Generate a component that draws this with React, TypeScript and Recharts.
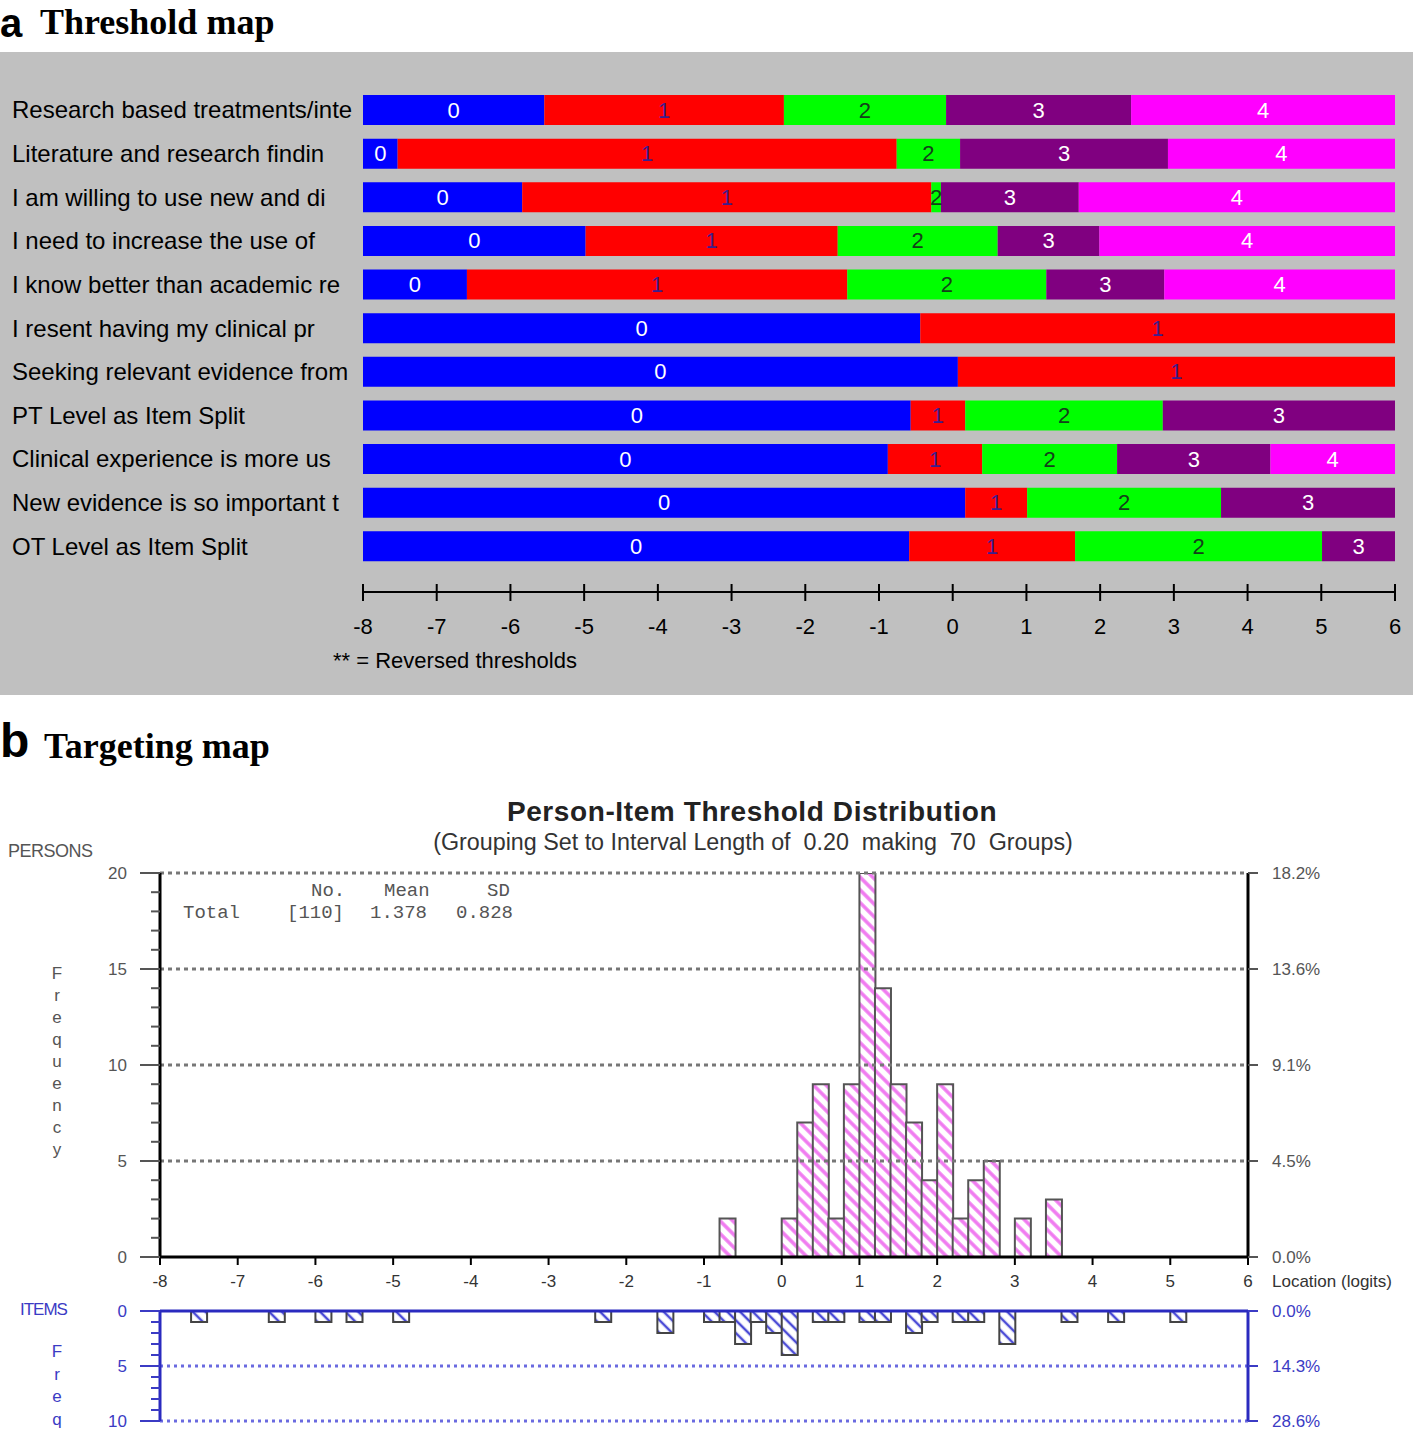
import React from "react";
import { Bar, BarChart, LabelList, ReferenceLine, XAxis, YAxis } from "recharts";

const SANS = "'Liberation Sans', Arial, sans-serif";
const SERIF = "'Liberation Serif', 'Times New Roman', serif";
const MONO = "'Liberation Mono', 'Courier New', monospace";

const itemLabels = [
  "Research based treatments/inte",
  "Literature and research findin",
  "I am willing to use new and di",
  "I need to increase the use of",
  "I know better than academic re",
  "I resent having my clinical pr",
  "Seeking relevant evidence from",
  "PT Level as Item Split",
  "Clinical experience is more us",
  "New evidence is so important t",
  "OT Level as Item Split",
];

// threshold locations (logits) for each item
const itemThresholds = [
  [-5.54, -2.29, -0.09, 2.42],
  [-7.53, -0.76, 0.1, 2.92],
  [-5.84, -0.29, -0.16, 1.71],
  [-4.98, -1.56, 0.61, 1.99],
  [-6.59, -1.43, 1.27, 2.87],
  [-0.44],
  [0.07],
  [-0.57, 0.17, 2.85],
  [-0.88, 0.4, 2.23, 4.31],
  [0.17, 1.01, 3.64],
  [-0.59, 1.66, 5.01],
];

const logitTicks = [-8, -7, -6, -5, -4, -3, -2, -1, 0, 1, 2, 3, 4, 5, 6];
const categoryColors = ["#0000ff", "#ff0000", "#00ff00", "#800080", "#ff00ff"];
const categoryTextColors = ["#ffffff", "#3c1e8c", "#14401a", "#ffffff", "#ffffff"];

// 0.20 logit groups: left edge of group and count
const personGroups = [-0.8, 0, 0.2, 0.4, 0.6, 0.8, 1.0, 1.2, 1.4, 1.6, 1.8, 2.0, 2.2, 2.4, 2.6, 3.0, 3.4];
const personCounts = [2, 2, 7, 9, 2, 9, 20, 14, 9, 7, 4, 9, 2, 4, 5, 2, 3];

const itemGroups = [
  -7.6, -6.6, -6.0, -5.6, -5.0, -2.4, -1.6, -1.0, -0.8, -0.6, -0.4, -0.2, 0, 0.4, 0.6, 1.0, 1.2, 1.6, 1.8,
  2.2, 2.4, 2.8, 3.6, 4.2, 5.0,
];
const itemCounts = [1, 1, 1, 1, 1, 1, 2, 1, 1, 3, 1, 2, 4, 1, 1, 1, 1, 2, 1, 1, 1, 3, 1, 1, 1];

const personFreqTicks = [0, 5, 10, 15, 20];
const personPercentLabels = ["0.0%", "4.5%", "9.1%", "13.6%", "18.2%"];
const itemFreqTicks = [0, 5, 10];
const itemPercentLabels = ["0.0%", "14.3%", "28.6%"];

const thresholdRows = itemLabels.map((label, i) => {
  const bounds = [-8, ...itemThresholds[i], 6];
  const row: Record<string, any> = { label };
  for (let k = 0; k < bounds.length - 1; k++) row[`c${k}`] = bounds[k + 1] - bounds[k];
  return row;
});

const groupTable = Array.from({ length: 70 }, (_, k) => ({
  mid: Math.round((-7.9 + 0.2 * k) * 100) / 100,
  persons: null as number | null,
  items: null as number | null,
}));
personGroups.forEach((g, i) => {
  groupTable[Math.round((g + 8) * 5)].persons = personCounts[i];
});
itemGroups.forEach((g, i) => {
  groupTable[Math.round((g + 8) * 5)].items = itemCounts[i];
});

const minorPersonTicks = Array.from({ length: 21 }, (_, i) => i);
const minorItemTicks = Array.from({ length: 11 }, (_, i) => i);

const ItemTick = ({ y, payload }: any) => (
  <text x={12} y={y} dominantBaseline="central" fontSize={24} fontFamily={SANS} fill="#000">
    {payload.value}
  </text>
);

const ThresholdXTick = ({ x, y, payload }: any) => (
  <g>
    <line x1={x} x2={x} y1={y - 8} y2={y + 9} stroke="#000" strokeWidth={2} />
    <text x={x} y={y + 42} textAnchor="middle" fontSize={22} fontFamily={SANS} fill="#000">
      {payload.value - 8}
    </text>
  </g>
);

const SegmentLabel = ({ x, y, width, height, value, cat }: any) => {
  if (value == null || !width) return null;
  return (
    <text
      x={x + width / 2}
      y={y + height / 2}
      dominantBaseline="central"
      textAnchor="middle"
      fontSize={22}
      fontFamily={SANS}
      fill={categoryTextColors[cat]}
    >
      {cat}
    </text>
  );
};

const LogitTick = ({ x, y, payload }: any) => (
  <g>
    <line x1={x} x2={x} y1={y} y2={y + 8} stroke="#000" strokeWidth={2} />
    <text x={x} y={y + 30} textAnchor="middle" fontSize={17} fontFamily={SANS} fill="#333">
      {payload.value}
    </text>
  </g>
);

const makeLeftTick = (color: string, labels: number[]) => ({ x, y, payload }: any) => {
  const major = labels.includes(payload.value);
  return (
    <g>
      <line x1={major ? x - 20 : x - 9} x2={x} y1={y} y2={y} stroke={color} strokeWidth={2} />
      {major && (
        <text x={x - 33} y={y} dominantBaseline="central" textAnchor="end" fontSize={17} fontFamily={SANS} fill={color}>
          {payload.value}
        </text>
      )}
    </g>
  );
};

const makeRightTick = (color: string, ticks: number[], labels: string[]) => ({ x, y, payload }: any) => (
  <g>
    <line x1={x} x2={x + 10} y1={y} y2={y} stroke={color} strokeWidth={2} />
    <text x={x + 24} y={y} dominantBaseline="central" fontSize={17} fontFamily={SANS} fill={color}>
      {labels[ticks.indexOf(payload.value)]}
    </text>
  </g>
);

const PersonLeftTick = makeLeftTick("#555", personFreqTicks);
const PersonRightTick = makeRightTick("#555", personFreqTicks, personPercentLabels);
const ItemLeftTick = makeLeftTick("#3b3bc4", itemFreqTicks);
const ItemRightTick = makeRightTick("#3b3bc4", itemFreqTicks, itemPercentLabels);

export default function App() {
  return (
    <div style={{ position: "absolute", left: 0, top: 0, width: 1415, height: 1436, background: "#fff" }}>
      {/* a: threshold map */}
      <div style={{ position: "absolute", left: 0, top: 52, width: 1413, height: 643, background: "#c0c0c0" }}>
        <BarChart
          layout="vertical"
          width={1413}
          height={643}
          data={thresholdRows}
          margin={{ top: 36, right: 18, bottom: 0, left: 0 }}
        >
          <XAxis
            type="number"
            domain={[0, 14]}
            ticks={logitTicks.map((t) => t + 8)}
            allowDataOverflow
            height={103}
            axisLine={{ stroke: "#000", strokeWidth: 2 }}
            tickLine={false}
            tickSize={0}
            tickMargin={0}
            tick={<ThresholdXTick />}
            interval={0}
          />
          <YAxis
            type="category"
            dataKey="label"
            width={363}
            axisLine={false}
            tickLine={false}
            padding={{ top: 0, bottom: 24 }}
            tick={<ItemTick />}
            interval={0}
          />
          {categoryColors.map((color, k) => (
            <Bar key={k} dataKey={`c${k}`} stackId="t" fill={color} barSize={30} isAnimationActive={false}>
              <LabelList dataKey={`c${k}`} content={(p: any) => <SegmentLabel {...p} cat={k} />} />
            </Bar>
          ))}
        </BarChart>
      </div>

      {/* b: persons */}
      <div style={{ position: "absolute", left: 0, top: 860 }}>
        <BarChart
          width={1415}
          height={437}
          data={groupTable}
          margin={{ top: 13, right: 0, bottom: 0, left: 0 }}
          barCategoryGap={0}
          barGap={0}
        >
          <defs>
            <pattern id="personHatch" width="9" height="9" patternUnits="userSpaceOnUse" patternTransform="rotate(-45)">
              <rect width="9" height="9" fill="#fff" />
              <line x1="2" y1="0" x2="2" y2="9" stroke="#f07af0" strokeWidth="3.5" />
            </pattern>
          </defs>
          <XAxis
            dataKey="mid"
            type="number"
            domain={[-8, 6]}
            allowDataOverflow
            ticks={logitTicks}
            interval={0}
            height={40}
            axisLine={{ stroke: "#000", strokeWidth: 3 }}
            tickLine={false}
            tickSize={0}
            tickMargin={0}
            tick={<LogitTick />}
          />
          <YAxis
            domain={[0, 20]}
            allowDataOverflow
            ticks={minorPersonTicks}
            interval={0}
            width={160}
            axisLine={{ stroke: "#000", strokeWidth: 3 }}
            tickLine={false}
            tickSize={0}
            tickMargin={0}
            tick={<PersonLeftTick />}
          />
          <YAxis
            yAxisId="pct"
            orientation="right"
            domain={[0, 20]}
            allowDataOverflow
            ticks={personFreqTicks}
            interval={0}
            width={167}
            axisLine={{ stroke: "#000", strokeWidth: 3 }}
            tickLine={false}
            tickSize={0}
            tickMargin={0}
            tick={<PersonRightTick />}
          />
          {personFreqTicks.slice(1).map((v) => (
            <ReferenceLine key={v} y={v} stroke="#777" strokeWidth={3} strokeDasharray="4 4" />
          ))}
          <Bar dataKey="persons" fill="url(#personHatch)" stroke="#555" strokeWidth={2} isAnimationActive={false} />
        </BarChart>
      </div>

      {/* b: items */}
      <div style={{ position: "absolute", left: 0, top: 1300 }}>
        <BarChart
          width={1415}
          height={136}
          data={groupTable}
          margin={{ top: 11, right: 0, bottom: 15, left: 0 }}
          barCategoryGap={0}
          barGap={0}
        >
          <defs>
            <pattern id="itemHatch" width="9" height="9" patternUnits="userSpaceOnUse" patternTransform="rotate(-45)">
              <rect width="9" height="9" fill="#fff" />
              <line x1="2" y1="0" x2="2" y2="9" stroke="#4a4ad6" strokeWidth="2.5" />
            </pattern>
          </defs>
          <XAxis dataKey="mid" type="number" domain={[-8, 6]} allowDataOverflow hide />
          <YAxis
            reversed
            domain={[0, 10]}
            allowDataOverflow
            ticks={minorItemTicks}
            interval={0}
            width={160}
            axisLine={{ stroke: "#2a2abf", strokeWidth: 3 }}
            tickLine={false}
            tickSize={0}
            tickMargin={0}
            tick={<ItemLeftTick />}
          />
          <YAxis
            yAxisId="pct"
            orientation="right"
            reversed
            domain={[0, 10]}
            allowDataOverflow
            ticks={itemFreqTicks}
            interval={0}
            width={167}
            axisLine={{ stroke: "#2a2abf", strokeWidth: 3 }}
            tickLine={false}
            tickSize={0}
            tickMargin={0}
            tick={<ItemRightTick />}
          />
          <ReferenceLine y={0} stroke="#2a2abf" strokeWidth={3} />
          {itemFreqTicks.slice(1).map((v) => (
            <ReferenceLine key={v} y={v} stroke="#6a6ae0" strokeWidth={3} strokeDasharray="3 4" />
          ))}
          <Bar dataKey="items" fill="url(#itemHatch)" stroke="#444" strokeWidth={2} isAnimationActive={false} />
        </BarChart>
      </div>

      {/* static texts */}
      <svg width={1415} height={1436} style={{ position: "absolute", left: 0, top: 0, pointerEvents: "none" }}>
        <text x={0} y={37} fontSize={40} fontWeight="bold" fontFamily={SANS}>a</text>
        <text x={40} y={34} fontSize={36} fontWeight="bold" fontFamily={SERIF}>Threshold map</text>
        <text x={333} y={668} fontSize={22} fontFamily={SANS} fill="#000">** = Reversed thresholds</text>

        <text x={0} y={757} fontSize={48} fontWeight="bold" fontFamily={SANS}>b</text>
        <text x={44} y={758} fontSize={36} fontWeight="bold" fontFamily={SERIF}>Targeting map</text>

        <text x={752} y={821} textAnchor="middle" fontSize={28} fontWeight="bold" letterSpacing={0.6} fontFamily={SANS} fill="#222">
          Person-Item Threshold Distribution
        </text>
        <text x={753} y={850} textAnchor="middle" fontSize={23.3} fontFamily={SANS} fill="#333" style={{ whiteSpace: "pre" }}>
          (Grouping Set to Interval Length of  0.20  making  70  Groups)
        </text>
        <text x={8} y={857} fontSize={18} fontFamily={SANS} fill="#555" letterSpacing={-0.5}>PERSONS</text>
        {"Frequency".split("").map((ch, i) => (
          <text key={i} x={57} y={979 + i * 22} textAnchor="middle" fontSize={17} fontFamily={SANS} fill="#555">
            {ch}
          </text>
        ))}
        <g fontFamily={MONO} fontSize={19} fill="#555">
          <text x={311} y={896}>No.</text>
          <text x={384} y={896}>Mean</text>
          <text x={487} y={896}>SD</text>
          <text x={183} y={918}>Total</text>
          <text x={287} y={918}>[110]</text>
          <text x={370} y={918}>1.378</text>
          <text x={456} y={918}>0.828</text>
        </g>
        <text x={1272} y={1287} fontSize={17} fontFamily={SANS} fill="#333">Location (logits)</text>

        <text x={20} y={1315} fontSize={17} fontFamily={SANS} fill="#3b3bc4" letterSpacing={-1}>ITEMS</text>
        {"Freq".split("").map((ch, i) => (
          <text key={i} x={57} y={1357 + i * 22.5} textAnchor="middle" fontSize={17} fontFamily={SANS} fill="#3b3bc4">
            {ch}
          </text>
        ))}
      </svg>
    </div>
  );
}
